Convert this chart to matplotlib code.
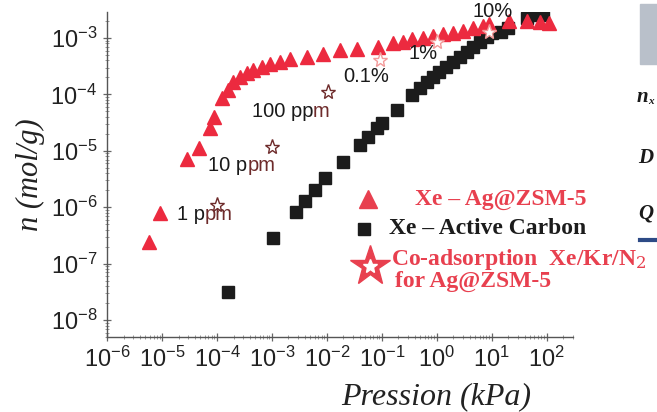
import numpy as np
import matplotlib
matplotlib.use('Agg')
import matplotlib.pyplot as plt

plt.rcParams['font.family'] = ['Liberation Sans', 'DejaVu Sans']
plt.rcParams['mathtext.fontset'] = 'custom'
plt.rcParams['mathtext.rm'] = 'Liberation Sans'
plt.rcParams['mathtext.it'] = 'Liberation Sans:italic'
plt.rcParams['mathtext.bf'] = 'Liberation Sans:bold'

# Xe on Ag@ZSM-5 (red triangles)
ag_p = [5.7e-6, 9.2e-6, 2.9e-5, 4.7e-5, 7.4e-5, 8.8e-5, 1.23e-4, 1.6e-4, 1.95e-4, 2.6e-4,
        3.5e-4, 4.5e-4, 6.6e-4, 9.2e-4, 1.4e-3, 2.1e-3, 4.4e-3, 8.5e-3, 1.7e-2, 3.5e-2,
        8.5e-2, 0.16, 0.24, 0.36, 0.56, 0.85, 1.3, 1.95, 2.95, 4.5,
        6.9, 9.1, 21, 44, 74, 112]
ag_n = [2.4e-7, 7.9e-7, 7.1e-6, 1.12e-5, 2.5e-5, 4.0e-5, 8.7e-5, 1.2e-4, 1.66e-4, 2.0e-4,
        2.4e-4, 2.7e-4, 3.1e-4, 3.5e-4, 3.8e-4, 4.2e-4, 4.6e-4, 5.2e-4, 6.1e-4, 6.4e-4,
        6.9e-4, 8.2e-4, 8.5e-4, 9.6e-4, 1.0e-3, 1.09e-3, 1.18e-3, 1.23e-3, 1.33e-3, 1.5e-3,
        1.63e-3, 1.77e-3, 2.0e-3, 2.0e-3, 1.92e-3, 1.85e-3]

# Xe on active carbon (black squares)
ac_p = [1.6e-4, 1.05e-3, 2.75e-3, 4.0e-3, 6.0e-3, 9.1e-3, 1.95e-2, 0.04, 0.056, 0.081,
        0.1, 0.186, 0.36, 0.49, 0.66, 0.85, 1.12, 1.5, 1.95, 2.6,
        3.5, 4.5, 6.0, 8.1, 10, 15, 19.5, 44, 56, 85]
ac_n = [3.2e-8, 2.8e-7, 8.1e-7, 1.29e-6, 2.0e-6, 3.3e-6, 6.3e-6, 1.26e-5, 1.74e-5, 2.5e-5,
        3.1e-5, 5.2e-5, 9.8e-5, 1.3e-4, 1.66e-4, 2.0e-4, 2.5e-4, 3.1e-4, 3.7e-4, 4.6e-4,
        5.6e-4, 6.9e-4, 8.5e-4, 1.05e-3, 1.23e-3, 1.29e-3, 1.5e-3, 2.25e-3, 2.6e-3, 2.6e-3]

# co-adsorption Xe/Kr/N2 points
co_p = [1.0e-4, 1.0e-3, 1.05e-2, 0.091, 1.0, 9.1]
co_n = [1.1e-6, 1.15e-5, 1.1e-4, 4.0e-4, 8.5e-4, 1.26e-3]
co_lbl = ['1 ppm', '10 ppm', '100 ppm', '0.1%', '1%', '10%']

red = '#ec2a3f'
brown = '#6e2b2b'
pink = '#f39a9a'

fig = plt.figure(figsize=(6.57, 4.12), dpi=100)
ax = fig.add_axes([0.163, 0.182, 0.709, 0.789])

ax.plot(ag_p, ag_n, '^', color=red, ms=10.5, mec=red, zorder=3)
ax.plot(ac_p, ac_n, 's', color='#1c1c1c', ms=8, mec='#1c1c1c', zorder=2)
ax.plot(co_p[:3], co_n[:3], '*', ms=11, mfc='white', mec=brown, mew=1.0, zorder=4)
ax.plot(co_p[3:], co_n[3:], '*', ms=11, mfc='white', mec=pink, mew=1.0, zorder=4)

ax.set_xscale('log')
ax.set_yscale('log')
ax.set_xlim(1e-6, 300)
ax.set_ylim(5e-9, 2.9e-3)
ax.set_xticks([10.0**k for k in range(-6, 3)])
ax.set_yticks([10.0**k for k in range(-8, -2)])
ax.xaxis.set_minor_locator(matplotlib.ticker.LogLocator(base=10, subs=np.arange(2, 10), numticks=20))
ax.yaxis.set_minor_locator(matplotlib.ticker.LogLocator(base=10, subs=np.arange(2, 10), numticks=20))
ax.xaxis.set_minor_formatter(matplotlib.ticker.NullFormatter())
ax.yaxis.set_minor_formatter(matplotlib.ticker.NullFormatter())

for s in ['top', 'right']:
    ax.spines[s].set_visible(False)
for s in ['left', 'bottom']:
    ax.spines[s].set_color('#555555')
    ax.spines[s].set_linewidth(1.0)
ax.tick_params(which='major', direction='inout', length=6, width=0.9, color='#666666',
               labelsize=17, labelcolor='#222222', pad=4)
ax.tick_params(which='minor', direction='inout', length=3, width=0.6, color='#888888')

ax.set_ylabel('n (mol/g)', family='Liberation Serif', style='italic', fontsize=22,
              color='#222222', labelpad=4)
fig.text(436 / 657, 1 - 397 / 412, 'Pression (kPa)', family='Liberation Serif',
         style='italic', fontsize=23, color='#222222', ha='center', va='center')

# labels of the co-adsorption points: black part + brown part
txt = dict(fontsize=14.5, va='center')
ax.text(6e-5, 7.4e-7, '1 p', color='#1a1a1a', ha='right', **txt)
ax.text(6e-5, 7.4e-7, 'pm', color=brown, ha='left', **txt)
ax.text(3.6e-4, 5.6e-6, '10 p', color='#1a1a1a', ha='right', **txt)
ax.text(3.6e-4, 5.6e-6, 'pm', color=brown, ha='left', **txt)
ax.text(5.6e-3, 5.0e-5, '100 pp', color='#1a1a1a', ha='right', **txt)
ax.text(5.6e-3, 5.0e-5, 'm', color=brown, ha='left', **txt)
ax.text(0.0195, 2.1e-4, co_lbl[3], color='#1a1a1a', ha='left', **txt)
ax.text(0.30, 5.4e-4, co_lbl[4], color='#1a1a1a', ha='left', **txt)
ax.text(4.4, 3.0e-3, co_lbl[5], color='#1a1a1a', ha='left', clip_on=False, **txt)

# legend drawn by hand
def fx(px):
    return px / 657
def fy(py):
    return 1 - py / 412

leg = dict(family='Liberation Serif', fontweight='bold', fontsize=17, va='center', ha='left')
fig.lines.append(plt.Line2D([fx(368)], [fy(199)], marker='^', ms=13, color='#e8404f',
                            transform=fig.transFigure))
fig.text(fx(415), fy(200), 'Xe \u2013 Ag@ZSM-5', color='#e8404f', **leg)
fig.lines.append(plt.Line2D([fx(364)], [fy(229)], marker='s', ms=9, color='#1c1c1c',
                            transform=fig.transFigure))
fig.text(fx(389), fy(229), 'Xe \u2013 Active Carbon', color='#1c1c1c', **leg)
fig.lines.append(plt.Line2D([fx(370)], [fy(266)], marker='*', ms=30, color='#e8404f',
                            mec='#e8404f', transform=fig.transFigure))
fig.lines.append(plt.Line2D([fx(370)], [fy(266)], marker='*', ms=10, color='white',
                            mec='white', transform=fig.transFigure))
fig.text(fx(391), fy(259), 'Co-adsorption  Xe/Kr/N$_2$', color='#e8404f',
         family='Liberation Serif', fontweight='bold', fontsize=17, va='center', ha='left',
         math_fontfamily='dejavuserif')
fig.text(fx(395), fy(281), 'for Ag@ZSM-5', color='#e8404f', **leg)

# pieces of the slide cut at the right edge
fig.patches.append(plt.Rectangle((fx(640), fy(64)), fx(20), 60 / 412, color='#b9c0ca',
                                 transform=fig.transFigure))
side = dict(family='Liberation Serif', fontweight='bold', style='italic', fontsize=15,
            color='#1a1a1a', va='center', ha='left')
fig.text(fx(637), fy(97), 'n', **side)
fig.text(fx(648), fy(101), 'x', fontsize=8, family='Liberation Serif', fontweight='bold',
         style='italic', color='#1a1a1a', va='center', ha='left')
fig.text(fx(638), fy(158), 'D', **side)
fig.text(fx(638), fy(213), 'Q', **side)
fig.lines.append(plt.Line2D([fx(640), fx(657)], [fy(240), fy(240)], color='#2d4a86', lw=3,
                            transform=fig.transFigure))

fig.savefig('out.png', dpi=100)
